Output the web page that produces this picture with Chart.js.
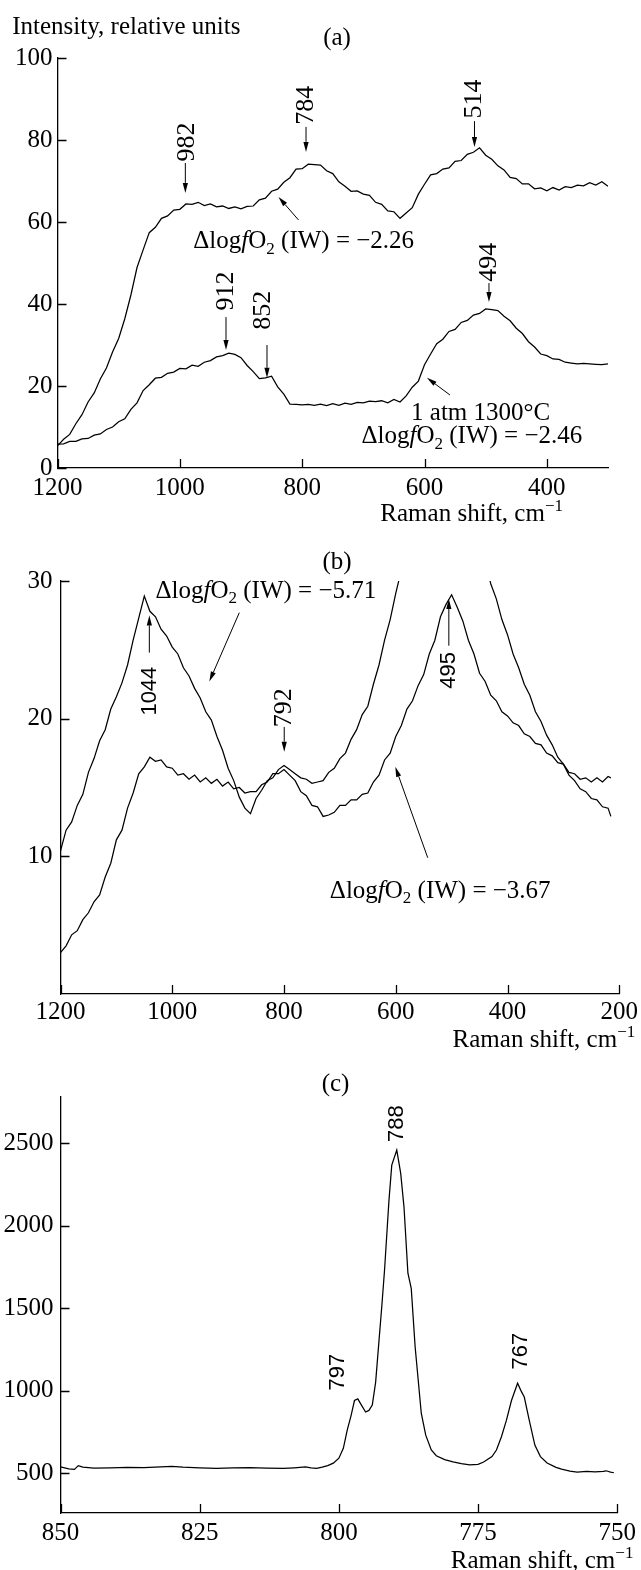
<!DOCTYPE html>
<html>
<head>
<meta charset="utf-8">
<script src="https://cdn.jsdelivr.net/npm/chart.js@4.4.1/dist/chart.umd.min.js"></script>
<style>
  html, body { margin: 0; padding: 0; background: #fff; }
  #wrap { position: relative; width: 641px; height: 1570px; }
  canvas { position: absolute; left: 0; }
</style>
</head>
<body>
<div id="wrap">
  <canvas id="pa" width="641" height="535" style="top:0px"></canvas>
  <canvas id="pb" width="641" height="520" style="top:535px"></canvas>
  <canvas id="pc" width="641" height="515" style="top:1055px"></canvas>
</div>
<script>
// ---- panel (a): Raman shift (cm-1) and intensity ----
const shiftA = [1200,1190,1180,1170,1160,1150,1140,1130,1120,1110,1100,1090,1080,1070,1060,1050,1040,1030,1020,1010,
  1000,990,980,970,960,950,940,930,920,910,900,890,880,870,860,850,840,830,820,810,
  800,790,780,770,760,750,740,730,720,710,700,690,680,670,660,650,640,630,620,610,
  600,590,580,570,560,550,540,530,520,510,500,490,480,470,460,450,440,430,420,410,
  400,390,380,370,360,350,340,330,320,310,300];
const upperA = [5.4,7.0,8.2,10.8,13.0,16.1,18.3,21.7,24.4,28.3,31.6,36.4,42.2,48.9,53.2,57.4,58.7,60.9,61.5,62.9,
  63.1,64.4,64.3,64.8,64.0,64.4,63.7,63.9,63.3,63.7,63.2,63.8,63.9,65.4,65.8,67.5,68.0,69.7,70.8,72.9,
  73.0,74.1,74.0,73.9,72.5,71.8,69.8,68.7,67.5,67.6,66.8,66.5,64.8,64.3,62.7,62.5,60.9,62.2,63.5,66.8,
  69.2,71.5,71.8,72.9,73.2,74.8,75.0,76.5,77.0,78.1,76.3,75.3,73.7,72.7,70.9,70.6,69.3,69.3,68.1,68.3,
  67.6,68.4,67.8,68.6,68.4,69.0,68.8,69.6,69.0,69.8,68.7];
const lowerA = [5.8,5.9,6.5,6.5,7.1,7.2,8.0,8.3,9.4,10.0,11.3,12.0,14.3,15.9,18.9,20.3,21.9,22.1,23.1,23.4,
  24.3,24.2,25.1,24.8,25.8,26.2,27.1,27.4,28.0,27.7,26.9,25.0,23.5,21.8,22.0,22.4,19.8,18.0,15.6,15.5,
  15.4,15.5,15.3,15.6,15.2,15.7,15.3,15.8,15.5,16.0,15.9,16.3,16.2,16.4,15.9,16.7,16.1,17.6,19.7,21.2,
  25.2,27.8,30.3,31.4,33.3,33.8,35.5,36.0,37.3,37.7,38.8,38.6,38.4,37.0,35.9,34.1,32.8,30.8,29.5,27.8,
  27.4,26.6,26.5,25.8,25.6,25.4,25.5,25.4,25.3,25.2,25.4];
const xTicksA = [1200, 1000, 800, 600, 400];
const yTicksA = [0, 20, 40, 60, 80, 100];

// ---- panel (b) ----
const shiftB = [1200,1190,1180,1170,1160,1150,1140,1130,1120,1110,1100,1090,1080,1070,1060,1050,1040,1030,1020,1010,
  1000,990,980,970,960,950,940,930,920,910,900,890,880,870,860,850,840,830,820,810,
  800,790,780,770,760,750,740,730,720,710,700,690,680,670,660,650,640,630,620,610,
  600,590,580,570,560,550,540,530,520,510,500,490,480,470,460,450,440,430,420,410,
  400,390,380,370,360,350,340,330,320,310,300,290,280,270,260,250,240,230,220,215];
const lowB = [3.0,3.5,4.3,4.6,5.4,5.9,6.7,7.2,8.5,9.5,11.2,11.9,13.5,14.6,16.0,16.5,17.2,16.9,17.0,16.5,
  16.4,15.9,16.0,15.6,15.9,15.4,15.7,15.3,15.6,15.1,15.4,14.9,15.0,14.6,14.7,14.7,15.2,15.4,16.0,16.0,
  16.3,15.9,15.5,14.7,14.4,13.7,13.6,12.9,13.0,13.2,13.7,13.7,14.1,14.1,14.5,14.6,15.4,15.9,17.0,17.5,
  18.7,19.5,20.7,21.3,22.4,23.2,24.7,25.7,27.4,28.3,29.0,28.1,27.1,25.7,24.7,23.3,22.7,21.7,21.3,20.5,
  20.2,19.7,19.5,18.9,18.7,18.2,18.1,17.5,17.3,16.8,16.7,16.1,16.0,15.6,15.7,15.4,15.7,15.4,15.8,15.7];
const highB = [10.4,11.9,12.5,13.7,14.5,16.1,17.1,18.4,19.2,20.7,21.6,22.6,23.9,25.7,27.3,28.9,27.8,27.4,26.5,26.0,
  25.2,24.7,23.7,23.1,22.2,21.5,20.5,19.9,18.7,17.7,16.4,15.5,14.3,13.5,13.1,14.2,14.8,15.5,15.7,16.3,
  16.6,16.3,16.0,15.7,15.6,15.3,15.4,15.5,16.1,16.4,17.1,17.5,18.5,19.2,20.3,20.9,22.5,23.9,25.7,27.2,
  29.1,30.8,32.5,null,null,null,null,null,null,null,null,null,null,null,null,null,31.5,29.8,28.7,27.2,
  26.1,24.7,23.7,22.5,21.7,20.5,19.8,18.8,18.1,17.2,16.7,15.9,15.5,14.9,14.7,14.2,14.1,13.6,13.5,12.9];
const xTicksB = [1200, 1000, 800, 600, 400, 200];
const yTicksB = [10, 20, 30];

// ---- panel (c) ----
const shiftC = [850,848.5,847.5,846.8,846,844,841,838,835,832,830,828,825,822,819,816,813,810,808,806,
  805,804,803,802,801,800,799.2,798.5,797.8,797.2,796.6,796,795.2,794.6,794,793.4,792.8,792.3,791.8,791,
  790.5,789.6,788.9,788.3,787.6,787,786.3,785.2,784.4,783.4,782.5,781,779.5,778,776.5,775,774,772.5,771.7,770.8,
  769.9,769,767.9,767.3,766.7,765.8,764.8,763.8,762.6,761,760,758.5,757.2,755.5,754,752.5,752,751.2,750.6];
const countsC = [537,526,522,545,536,530,532,534,533,538,541,536,532,529,531,533,530,528,532,537,
  532,528,536,545,560,590,650,760,850,940,950,915,870,880,912,1050,1300,1507,1730,2155,
  2367,2458,2318,2112,1712,1620,1264,863,730,640,605,582,568,557,550,553,567,600,640,720,
  821,940,1045,1000,961,820,670,600,561,535,524,512,506,510,507,510,514,506,502];
const xTicksC = [850, 825, 800, 775, 750];
const yTicksC = [500, 1000, 1500, 2000, 2500];

const SERIF = '"Liberation Serif", "Times New Roman", serif';
const SANS = '"Liberation Sans", Arial, sans-serif';

function pts(xs, ys) {
  return xs.map((x, i) => ({ x: x, y: ys[i] }));
}

function drawRich(ctx, parts, x, yc, fs, align) {
  const base = yc + 0.33 * fs;
  const fontOf = p => (p.it ? 'italic ' : '') + (p.sub || p.sup ? fs * 0.68 : fs) + 'px ' + SERIF;
  let w = 0;
  parts.forEach(p => { ctx.font = fontOf(p); w += ctx.measureText(p.t).width; });
  let cx = align === 'right' ? x - w : (align === 'center' ? x - w / 2 : x);
  ctx.textAlign = 'left';
  ctx.textBaseline = 'alphabetic';
  parts.forEach(p => {
    ctx.font = fontOf(p);
    let dy = 0;
    if (p.sub) dy = 0.22 * fs;
    if (p.sup) dy = -0.4 * fs;
    ctx.fillText(p.t, cx, base + dy);
    cx += ctx.measureText(p.t).width;
  });
}

function logf(val) {
  return [{ t: '\u0394log' }, { t: 'f', it: true }, { t: 'O' }, { t: '2', sub: true }, { t: ' (IW) = \u2212' + val }];
}
const ramanTitle = [{ t: 'Raman shift, cm' }, { t: '\u22121', sup: true }];

const annot = {
  id: 'annot',
  afterDraw(chart, args, o) {
    const ctx = chart.ctx;
    const xs = chart.scales.x, ys = chart.scales.y;
    const px = v => xs.getPixelForValue(v), py = v => ys.getPixelForValue(v);
    ctx.save();
    ctx.fillStyle = '#000';
    ctx.strokeStyle = '#000';
    ctx.lineWidth = 1.3;
    // inward tick marks
    ctx.beginPath();
    xs.ticks.forEach(t => {
      const x = Math.round(px(t.value)) + 0.5;
      ctx.moveTo(x, ys.bottom);
      ctx.lineTo(x, ys.bottom - o.tickLen);
    });
    ys.ticks.forEach(t => {
      const y = Math.round(py(t.value)) + 0.5;
      ctx.moveTo(xs.left, y);
      ctx.lineTo(xs.left + o.tickLen, y);
    });
    ctx.stroke();
    // arrows
    ctx.lineWidth = 1;
    (o.arrows || []).forEach(a => {
      const x1 = px(a[0]), y1 = py(a[1]), x2 = px(a[2]), y2 = py(a[3]);
      const ang = Math.atan2(y2 - y1, x2 - x1);
      const hl = 10, hw = 2.6;
      const bx = x2 - hl * Math.cos(ang), by = y2 - hl * Math.sin(ang);
      ctx.beginPath();
      ctx.moveTo(x1, y1);
      ctx.lineTo(bx, by);
      ctx.stroke();
      ctx.beginPath();
      ctx.moveTo(x2, y2);
      ctx.lineTo(bx + hw * Math.sin(ang), by - hw * Math.cos(ang));
      ctx.lineTo(bx - hw * Math.sin(ang), by + hw * Math.cos(ang));
      ctx.closePath();
      ctx.fill();
    });
    // rotated peak labels
    (o.peaks || []).forEach(p => {
      ctx.save();
      ctx.translate(px(p.v), py(p.y));
      ctx.rotate(-Math.PI / 2);
      ctx.font = p.fs + 'px ' + (p.sans ? SANS : SERIF);
      ctx.textAlign = 'center';
      ctx.textBaseline = 'middle';
      ctx.fillText(p.s, 0, 0);
      ctx.restore();
    });
    // plain and rich texts
    (o.texts || []).forEach(t => {
      const parts = typeof t.s === 'string' ? [{ t: t.s }] : t.s;
      drawRich(ctx, parts, px(t.v), py(t.y), t.fs || 25, t.align || 'left');
    });
    ctx.restore();
  }
};

function axis(min, max, ticks, reverse, size, pad) {
  return {
    type: 'linear',
    min: min,
    max: max,
    reverse: reverse,
    afterBuildTicks: s => { s.ticks = ticks.map(v => ({ value: v })); },
    afterFit: s => { if (s.isHorizontal()) s.height = size; else s.width = size; },
    grid: { display: false, drawTicks: false },
    border: { display: true, color: '#000', width: 1.3 },
    ticks: {
      color: '#000',
      autoSkip: false,
      maxRotation: 0,
      padding: pad,
      font: { family: SERIF, size: 25 },
      callback: v => String(v)
    }
  };
}

function lineSet(data) {
  return {
    data: data,
    borderColor: '#000',
    borderWidth: 1.25,
    pointRadius: 0,
    tension: 0,
    spanGaps: false
  };
}

function makeChart(id, datasets, x, y, padding, notes) {
  return new Chart(document.getElementById(id), {
    type: 'line',
    data: { datasets: datasets },
    options: {
      responsive: false,
      devicePixelRatio: 1,
      animation: false,
      layout: { padding: padding },
      scales: { x: x, y: y },
      plugins: { legend: { display: false }, tooltip: { enabled: false }, annot: notes }
    },
    plugins: [annot]
  });
}

// (a)
makeChart('pa',
  [lineSet(pts(shiftA, upperA)), lineSet(pts(shiftA, lowerA))],
  axis(300, 1200, xTicksA, true, 67, 5),
  axis(0, 100, yTicksA, false, 57.5, 5),
  { top: 58, right: 33, left: 0, bottom: 0 },
  {
    tickLen: 9,
    arrows: [
      [991, 74.4, 991, 67.1], [793.7, 83.2, 793.7, 77.1], [518.3, 84.6, 518.3, 78.3],
      [924.5, 36.8, 924.5, 28.8], [857.5, 30, 857.5, 22], [494.6, 45.1, 494.6, 40.5],
      [806, 60.5, 838.7, 66.1], [558.3, 17.8, 596, 22]
    ],
    peaks: [
      { v: 988, y: 79.5, s: '982', fs: 26 }, { v: 793.7, y: 88.5, s: '784', fs: 26 },
      { v: 518.3, y: 90, s: '514', fs: 26 }, { v: 924.5, y: 43.2, s: '912', fs: 26 },
      { v: 864, y: 38.5, s: '852', fs: 26 }, { v: 494.6, y: 50.2, s: '494', fs: 26 }
    ],
    texts: [
      { v: 1274, y: 107.8, s: 'Intensity, relative units' },
      { v: 743, y: 105.1, s: '(a)', align: 'center' },
      { v: 978, y: 55.6, s: logf('2.26') },
      { v: 622, y: 13.7, s: '1 atm 1300\u00B0C' },
      { v: 703, y: 8, s: logf('2.46') },
      { v: 373.6, y: -11, s: ramanTitle, align: 'right' }
    ]
  });

// (b)
makeChart('pb',
  [lineSet(pts(shiftB, highB)), lineSet(pts(shiftB, lowB))],
  axis(200, 1200, xTicksB, true, 61, 3),
  axis(0, 30, yTicksB, false, 60.5, 8),
  { top: 46, right: 20, left: 0, bottom: 0 },
  {
    tickLen: 9,
    arrows: [
      [880, 27.7, 933.6, 22.7], [1041, 24.8, 1041, 27.5], [799.6, 19.4, 799.6, 17.6],
      [505, 25.3, 505, 28.7], [542.8, 9.9, 600.8, 16.5]
    ],
    peaks: [
      { v: 1040.7, y: 22, s: '1044', fs: 22, sans: true },
      { v: 799.6, y: 20.8, s: '792', fs: 26 },
      { v: 505, y: 23.5, s: '495', fs: 22, sans: true }
    ],
    texts: [
      { v: 705.2, y: 31.46, s: '(b)', align: 'center' },
      { v: 1030, y: 29.4, s: logf('5.71') },
      { v: 718, y: 7.6, s: logf('3.67') },
      { v: 171.4, y: -3.28, s: ramanTitle, align: 'right' }
    ]
  });

// (c)
makeChart('pc',
  [lineSet(pts(shiftC, countsC))],
  axis(750, 850, xTicksC, true, 57, 5),
  axis(258, 2780, yTicksC, false, 60.5, 7),
  { top: 42, right: 17, left: 0, bottom: 0 },
  {
    tickLen: 9,
    peaks: [
      { v: 789.6, y: 2618, s: '788', fs: 22, sans: true },
      { v: 800.2, y: 1112, s: '797', fs: 22, sans: true },
      { v: 767.3, y: 1239, s: '767', fs: 22, sans: true }
    ],
    texts: [
      { v: 800.6, y: 2864, s: '(c)', align: 'center' },
      { v: 747.1, y: -27, s: ramanTitle, align: 'right' }
    ]
  });
</script>
</body>
</html>
